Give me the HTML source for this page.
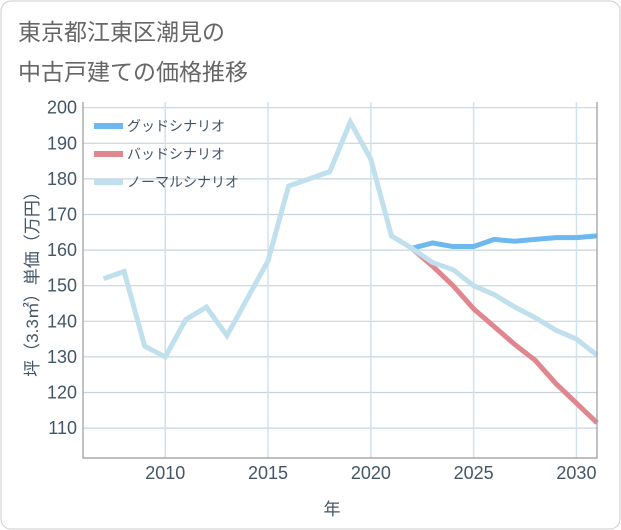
<!DOCTYPE html>
<html><head><meta charset="utf-8">
<style>
body{margin:0;background:#fff;}
svg{display:block;font-family:"Liberation Sans","Noto Sans CJK JP",sans-serif;}
</style></head>
<body>
<svg id="chart" width="621" height="530">
<rect x="1" y="1" width="619" height="528" rx="10" fill="#fff" stroke="#ccc"/>
<text x="18" y="40" font-size="23" fill="#666">東京都江東区潮見の</text>
<text x="18" y="80" font-size="23" fill="#666">中古戸建ての価格推移</text>
<g id="grid"></g>
<g id="series"></g>
<g id="axes"></g>
<text transform="translate(38,280) rotate(-90)" text-anchor="middle" font-size="17" fill="#445566">坪（3.3㎡）単価（万円）</text>
<text x="332" y="515" text-anchor="middle" font-size="17" fill="#445566">年</text>
<g id="legend"></g>
</svg>
<script>
const years=[2007,2008,2009,2010,2011,2012,2013,2014,2015,2016,2017,2018,2019,2020,2021,2022,2023,2024,2025,2026,2027,2028,2029,2030,2031];
const normalValues=[152,154,133,130,140.5,144,136,146.5,157,178,180,182,196,185.5,164,160.5,156.5,154.5,150,147.5,144,141,137.5,135,130.5];
const forecastYears=[2022,2023,2024,2025,2026,2027,2028,2029,2030,2031];
const goodValues=[160.5,162,161,161,163,162.5,163,163.5,163.5,164];
const badValues=[160.5,155.5,150,143.5,138.5,133.5,129,122.5,117,111.5];
const yTicks=[110,120,130,140,150,160,170,180,190,200];
const xTicks=[2010,2015,2020,2025,2030];
const seriesNames=["グッドシナリオ","バッドシナリオ","ノーマルシナリオ"];

const L=83,R=597,T=102,B=458;
const xMin=2006,xMax=2031,yMin=101.6,yMax=201.6;
function xs(v){return L+(v-xMin)/(xMax-xMin)*(R-L);}
function ys(v){return B-(v-yMin)/(yMax-yMin)*(B-T);}
const NS="http://www.w3.org/2000/svg";
function mk(tag,attrs,parent){const e=document.createElementNS(NS,tag);for(const k in attrs)e.setAttribute(k,attrs[k]);parent.appendChild(e);return e;}
const grid=document.getElementById('grid'),axes=document.getElementById('axes'),ser=document.getElementById('series'),leg=document.getElementById('legend');
yTicks.forEach(t=>{
  const l=mk('line',{x1:L,x2:R,y1:ys(t),y2:ys(t),stroke:'#c8d4e0','stroke-width':1.2},grid);
  
  
  const tx=mk('text',{x:L-6,y:ys(t)+6,'text-anchor':'end','font-size':18,fill:'#445566'},axes);
  tx.textContent=t;
  
  
});
xTicks.forEach(t=>{
  const l=mk('line',{x1:xs(t),x2:xs(t),y1:T,y2:B,stroke:'#cfe2ee','stroke-width':1.5},grid);
  
  
  const tx=mk('text',{x:xs(t),y:B+21,'text-anchor':'middle','font-size':18,fill:'#445566'},axes);
  tx.textContent=t;
  
  
});
const frame=mk('path',{d:`M${L},${T}V${B}H${R}V${T}`,fill:'none',stroke:'#999','stroke-width':1.2},axes);


function line(xv,yv,color,name){
  const p=mk('polyline',{points:xv.map((x,i)=>xs(x)+','+ys(yv[i])).join(' '),fill:'none',stroke:color,'stroke-width':5,'stroke-linejoin':'miter'},ser);
  
  
}
line(forecastYears,goodValues,'#6cb8ef','good-scenario-line');
line(forecastYears,badValues,'#e0868f','bad-scenario-line');
line(years,normalValues,'#bfe0ec','normal-scenario-line');
const legColors=['#6cb8ef','#e0868f','#bfe0ec'];
seriesNames.forEach((n,i)=>{
  const y=126+i*28;
  const r=mk('rect',{x:94,y:y-3,width:29,height:6,fill:legColors[i]},leg);
  
  
  const t=mk('text',{x:127,y:y+5,'font-size':14,fill:'#445566'},leg);
  t.textContent=n;
  
  
});
</script>
</body></html>
